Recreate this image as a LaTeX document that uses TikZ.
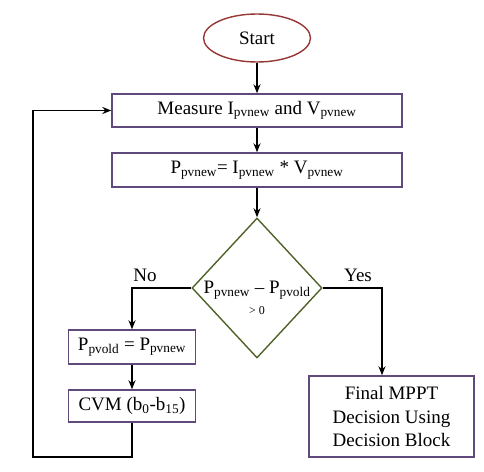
\documentclass[tikz,border=0pt]{standalone}
\usepackage{fontspec}
\setmainfont{Liberation Serif}
\usetikzlibrary{shapes.geometric,arrows.meta}
\definecolor{startred}{HTML}{953735}
\definecolor{boxpurple}{HTML}{604A7B}
\definecolor{testgreen}{HTML}{4F6228}
\newcommand{\lo}[1]{\textsubscript{#1}}

\begin{document}
\begin{tikzpicture}[x=1pt,y=-1pt,
  font=\fontsize{19}{23.5}\selectfont,
  box/.style={draw=boxpurple,line width=1.4pt,inner sep=0pt,align=center},
  flow/.style={line width=1.6pt,-{Stealth[length=9pt,width=7pt]}}]
\useasboundingbox (0,0) rectangle (484,471);
% blocks
\node[ellipse,draw=startred,line width=1.4pt,minimum width=107pt,minimum height=48pt,inner sep=0pt] (start) at (257,38) {Start};
\node[box,minimum width=290pt,minimum height=33pt] (measure) at (257,110.5) {Measure I\lo{pvnew} and V\lo{pvnew}};
\node[box,minimum width=290pt,minimum height=34pt] (power) at (257,170) {P\lo{pvnew}= I\lo{pvnew} * V\lo{pvnew}};
\node[diamond,draw=testgreen,line width=1.4pt,minimum width=130pt,minimum height=140pt,inner sep=0pt] (check) at (257,288) {};
\node[align=center] at (257,298) {P\lo{pvnew} -- P\lo{pvold}\\[-2pt] {\fontsize{12}{14}\selectfont > 0}};
\node[box,minimum width=127pt,minimum height=34pt] (update) at (132,347) {P\lo{pvold} = P\lo{pvnew}};
\node[box,minimum width=127pt,minimum height=32pt] (cvm) at (132,406) {CVM (b\lo{0}-b\lo{15})};
\node[box,minimum width=165pt,minimum height=81pt] (final) at (391.5,416.5) {Final MPPT\\ Decision Using\\ Decision Block};
% branch labels
\node (no) at (145,275) {No};
\node (yes) at (358,275) {Yes};
% connectors
\draw[flow] (start) -- (measure);
\draw[flow] (measure) -- (power);
\draw[flow] (power) -- (check);
\draw[flow] (check.west) -| (update.north);
\draw[flow] (update) -- (cvm);
\draw[flow] (check.east) -| ([xshift=-9.5pt]final.north);
\coordinate (back) at (33,457);
\draw[flow] (cvm.south) |- (back) |- (measure.west);
\end{tikzpicture}
\end{document}
